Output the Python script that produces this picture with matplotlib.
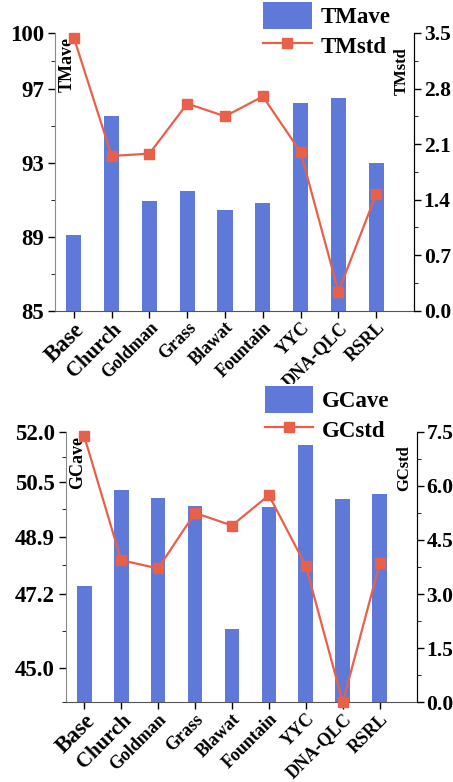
import matplotlib.pyplot as plt
from matplotlib.ticker import FixedLocator

# --- data ---
methods = ['Base', 'Church', 'Goldman', 'Grass', 'Blawat', 'Fountain', 'YYC', 'DNA-QLC', 'RSRL']
tm_ave = [89.07, 95.5, 90.93, 91.45, 90.44, 90.83, 96.2, 96.5, 93.0]
tm_std = [3.44, 1.95, 1.98, 2.61, 2.45, 2.70, 2.00, 0.24, 1.47]
gc_ave = [47.44, 50.28, 50.03, 49.79, 46.18, 49.77, 51.92, 50.01, 50.17]
gc_std = [7.38, 3.94, 3.71, 5.25, 4.90, 5.74, 3.78, 0.0, 3.86]

tm_left_ticks = [85, 89, 93, 97, 100]
tm_right_ticks = [0.0, 0.7, 1.4, 2.1, 2.8, 3.5]
gc_left_ticks = [45.0, 47.2, 48.9, 50.5, 52.0]
gc_right_ticks = [0.0, 1.5, 3.0, 4.5, 6.0, 7.5]

BAR_C = '#5f79d8'
LINE_C = '#e9604a'
W, H = 453, 782

plt.rcParams['font.family'] = ['Liberation Serif', 'DejaVu Serif']
plt.rcParams['font.weight'] = 'bold'

fig = plt.figure(figsize=(W / 100, H / 100), dpi=100)


def panel(box, ave, std, lticks, lfmt, ylim_l, rticks, ylim_r, name_a, name_s, leg_anchor):
    x0, y0, x1, y1 = box  # pixel coords (left, top, right, bottom)
    ax = fig.add_axes([x0 / W, 1 - y1 / H, (x1 - x0) / W, (y1 - y0) / H])
    xs = list(range(len(methods)))
    bars = ax.bar(xs, ave, width=0.4, color=BAR_C, label=name_a, zorder=2)
    ax.set_xlim(-0.5, 9.0)
    ax.set_ylim(*ylim_l)
    ax.set_yticks(lticks)
    ax.set_yticklabels([lfmt.format(v) for v in lticks], fontsize=16.5, fontweight='bold')
    mids = [(a + b) / 2 for a, b in zip(lticks[:-1], lticks[1:])]
    if ylim_l[0] < lticks[0]:
        mids = [ylim_l[0]] + mids
    ax.yaxis.set_minor_locator(FixedLocator(mids))
    ax.set_xticks(xs)
    ax.set_xticklabels(methods, rotation=45, ha='right', rotation_mode='anchor')
    for i, lab in enumerate(ax.get_xticklabels()):
        lab.set_fontweight('bold')
        lab.set_fontsize(16.5 if i == 0 else (15 if i == 1 else 13))
    ax.tick_params(axis='y', direction='out', length=5, width=1, pad=3)
    ax.tick_params(axis='x', direction='out', length=5, width=1, pad=1)
    ax.tick_params(axis='y', which='minor', length=3)
    ax.spines['top'].set_visible(False)
    ax.spines['left'].set_color('#8a8a8a')
    ax.spines['bottom'].set_color('#555555')

    ax2 = ax.twinx()
    line = ax2.plot(xs, std, color=LINE_C, marker='s', markersize=7.5, lw=1.6,
                    label=name_s, clip_on=False, zorder=3)
    ax2.set_ylim(*ylim_r)
    ax2.set_yticks(rticks)
    ax2.set_yticklabels(['{:.1f}'.format(v) for v in rticks], fontsize=15.5, fontweight='bold')
    rm = [(a + b) / 2 for a, b in zip(rticks[:-1], rticks[1:])]
    ax2.yaxis.set_minor_locator(FixedLocator(rm))
    ax2.tick_params(axis='y', direction='out', length=5, width=1, pad=2)
    ax2.tick_params(axis='y', which='minor', length=3)
    ax2.spines['top'].set_visible(False)
    ax2.spines['left'].set_visible(False)
    ax2.spines['bottom'].set_visible(False)

    ax.text(0.034, 0.985, name_a, transform=ax.transAxes, rotation=90, ha='center', va='top',
            fontsize=13, fontweight='bold')
    ax2.text(0.965, 0.95, name_s, transform=ax.transAxes, rotation=90, ha='center', va='top',
             fontsize=12, fontweight='bold', zorder=10)

    leg = fig.legend([bars, line[0]], [name_a, name_s], loc='upper right', bbox_to_anchor=leg_anchor,
                     prop={'family': 'Liberation Serif', 'weight': 'bold', 'size': 16.5},
                     frameon=True, facecolor='white', edgecolor='none', framealpha=1,
                     handlelength=2.1, handleheight=1.4, borderpad=0.1, labelspacing=0.15,
                     handletextpad=0.4, borderaxespad=0)
    leg.set_zorder(5)
    return ax, ax2


panel((55, 33, 414, 310.7), tm_ave, tm_std, tm_left_ticks, '{:d}', (85, 100),
      tm_right_ticks, (0, 3.5), 'TMave', 'TMstd', (393 / W, 1.0))
panel((65.7, 431.7, 416.7, 702.3), gc_ave, gc_std, gc_left_ticks, '{:.1f}', (44.0, 52.0),
      gc_right_ticks, (0, 7.5), 'GCave', 'GCstd', (392 / W, 1 - 384 / H))

fig.savefig('out.png', dpi=100)
